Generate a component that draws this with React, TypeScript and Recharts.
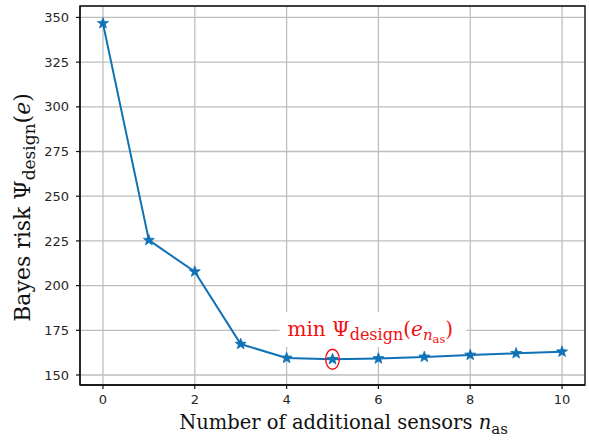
import React from "react"
import {
  LineChart,
  Line,
  XAxis,
  YAxis,
  CartesianGrid,
  ReferenceArea,
  ReferenceDot,
  Label,
} from "recharts"

// Bayes risk per number of additional sensors
const sensorCounts = [0, 1, 2, 3, 4, 5, 6, 7, 8, 9, 10]
const bayesRisk = [346.7, 225.4, 207.8, 167.3, 159.5, 158.8, 159.2, 160.1, 161.2, 162.1, 163.0]

const xTicks = [0, 2, 4, 6, 8, 10]
const yTicks = [150, 175, 200, 225, 250, 275, 300, 325, 350]
const xDomain: [number, number] = [-0.5, 10.5]
const yDomain: [number, number] = [144.4, 356.4]

// where the "min" note sits (data coords of the text start)
const minIndex = 5
const noteAt = { x: 4.02, y: 171.8 }

const data = sensorCounts.map((n, i) => ({ n, risk: bayesRisk[i] }))

const BLUE = "#0f72b6"
const RED = "#f01010"
const SERIF = "'DejaVu Serif', serif"
const SANS = "'DejaVu Sans', sans-serif"

function Star(props: any) {
  const { cx, cy } = props
  if (cx == null || cy == null) return null
  const pts: string[] = []
  for (let k = 0; k < 10; k++) {
    const r = k % 2 === 0 ? 5.8 : 2.4
    const a = -Math.PI / 2 + (k * Math.PI) / 5
    pts.push(`${cx + r * Math.cos(a)},${cy + r * Math.sin(a)}`)
  }
  return <polygon points={pts.join(" ")} fill={BLUE} stroke={BLUE} strokeWidth={0.8} />
}

function MinCircle(props: any) {
  const { cx, cy } = props
  return <ellipse cx={cx} cy={cy} rx={6.8} ry={10} fill="none" stroke={RED} strokeWidth={1.4} />
}

function MinNote(props: any) {
  const { cx, cy } = props
  return (
    <g>
      <rect x={cx - 8} y={cy - 24} width={187} height={35} rx={6} fill="#fff" />
      <text x={cx} y={cy} fill={RED} fontFamily={SERIF} fontSize={20}>
        min Ψ
        <tspan fontSize={16} dy={4}>design</tspan>
        <tspan dy={-4}>(</tspan>
        <tspan fontStyle="italic">e</tspan>
        <tspan fontSize={15} fontStyle="italic" dy={4}>n</tspan>
        <tspan fontSize={11.5} dy={3}>as</tspan>
        <tspan dy={-7}>)</tspan>
      </text>
    </g>
  )
}

function YTitle(props: any) {
  const vb = props.viewBox || { x: 20, y: 6, width: 60, height: 379 }
  const x = 30
  const y = vb.y + vb.height / 2 + 12
  return (
    <text
      x={x}
      y={y}
      transform={`rotate(-90 ${x} ${y})`}
      textAnchor="middle"
      fontFamily={SERIF}
      fontSize={22}
      fill="#111"
    >
      Bayes risk Ψ
      <tspan fontSize={17} dy={5}>design</tspan>
      <tspan dy={-5}>(</tspan>
      <tspan fontStyle="italic">e</tspan>
      <tspan>)</tspan>
    </text>
  )
}

function XTitle(props: any) {
  const vb = props.viewBox || { x: 80, y: 385, width: 505, height: 30 }
  const x = vb.x + vb.width / 2 + 11
  const y = 429
  return (
    <text x={x} y={y} textAnchor="middle" fontFamily={SERIF} fontSize={19.5} fill="#111">
      Number of additional sensors <tspan fontStyle="italic">n</tspan>
      <tspan fontSize={15} dy={5}>as</tspan>
    </text>
  )
}

export default function App() {
  return (
    <div style={{ position: "absolute", left: 0, top: 0, background: "#fff" }}>
      <LineChart
        width={589}
        height={444}
        data={data}
        margin={{ top: 6, right: 4, bottom: 29, left: 20 }}
      >
        <CartesianGrid stroke="#bdbdbd" strokeWidth={1.3} />
        <XAxis
          dataKey="n"
          type="number"
          domain={xDomain}
          ticks={xTicks}
          height={30}
          axisLine={{ stroke: "#111", strokeWidth: 1.3 }}
          tickLine={{ stroke: "#111", strokeWidth: 1.2 }}
          tickSize={4}
          tickMargin={6}
          tick={{ fontFamily: SANS, fontSize: 13, fill: "#262626" }}
          allowDataOverflow
        >
          <Label content={<XTitle />} />
        </XAxis>
        <YAxis
          type="number"
          domain={yDomain}
          ticks={yTicks}
          width={60}
          axisLine={{ stroke: "#111", strokeWidth: 1.3 }}
          tickLine={{ stroke: "#111", strokeWidth: 1.2 }}
          tickSize={4}
          tickMargin={7}
          tick={{ fontFamily: SANS, fontSize: 13, fill: "#262626" }}
          allowDataOverflow
        >
          <Label content={<YTitle />} />
        </YAxis>
        <ReferenceArea
          x1={xDomain[0]}
          x2={xDomain[1]}
          y1={yDomain[0]}
          y2={yDomain[1]}
          fill="none"
          stroke="#111"
          strokeWidth={1.3}
        />
        <Line
          dataKey="risk"
          stroke={BLUE}
          strokeWidth={2}
          dot={(p: any) => <Star key={p.index} {...p} />}
          activeDot={false}
          isAnimationActive={false}
        />
        <ReferenceDot x={noteAt.x} y={noteAt.y} shape={(p: any) => <MinNote {...p} />} />
        <ReferenceDot
          x={sensorCounts[minIndex]}
          y={bayesRisk[minIndex]}
          shape={(p: any) => <MinCircle {...p} />}
        />
      </LineChart>
    </div>
  )
}
